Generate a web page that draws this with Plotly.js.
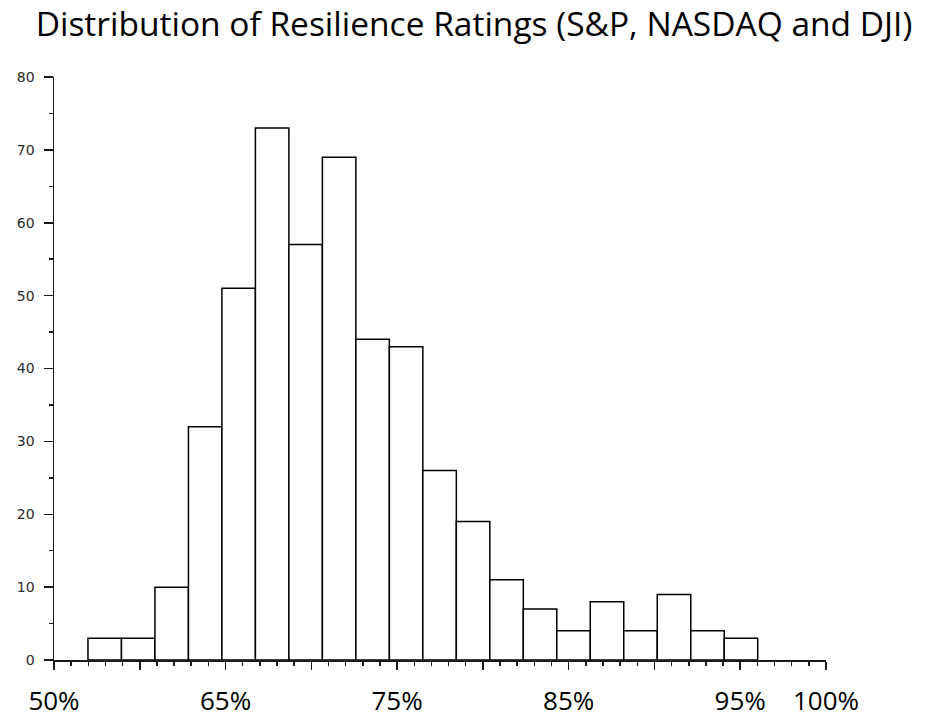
<!DOCTYPE html>
<html>
<head>
<meta charset="utf-8">
<script src="https://cdn.plot.ly/plotly-3.0.1.min.js"></script>
<style>html,body{margin:0;padding:0;background:#fff;}#chart{width:941px;height:727px;} svg text{font-variant-ligatures:none;}</style>
</head>
<body>
<div id="chart"></div>
<script>
// Histogram counts per class (20 classes)
var counts = [3, 3, 10, 32, 51, 73, 57, 69, 44, 43, 26, 19, 11, 7, 4, 8, 4, 9, 4, 3];
// Class edges: first edge and width (fractions)
var binStart = 0.5698;
var binWidth = 0.01952;
// Axis tick values and their (overlaid) labels
var xTickVals = [0.55, 0.60, 0.65, 0.70, 0.75, 0.80, 0.85, 0.90, 0.95, 1.00];
var xTickText = ["50%", "", "65%", "", "75%", "", "85%", "", "95%", "100%"];
var yTickVals = [0, 10, 20, 30, 40, 50, 60, 70, 80];

var centers = counts.map(function (c, i) { return binStart + (i + 0.5) * binWidth; });

var trace = {
  type: 'bar',
  x: centers,
  y: counts,
  width: counts.map(function () { return binWidth; }),
  marker: { color: '#ffffff', line: { color: '#000000', width: 1.5 } },
  hoverinfo: 'x+y'
};

var layout = {
  width: 941,
  height: 727,
  margin: { l: 54, r: 115, t: 77, b: 67, pad: 0 },
  paper_bgcolor: '#ffffff',
  plot_bgcolor: '#ffffff',
  showlegend: false,
  bargap: 0,
  title: {
    text: 'Distribution of Resilience Ratings (S&amp;P, NASDAQ and DJI)',
    font: { family: '"Open Sans", sans-serif', size: 33.5, color: '#000000' },
    x: 474 / 941, xanchor: 'center', xref: 'container',
    y: 1 - 24 / 727, yanchor: 'middle', yref: 'container'
  },
  xaxis: {
    range: [0.55, 1.0],
    tickmode: 'array',
    tickvals: xTickVals,
    ticktext: xTickText,
    ticks: 'outside',
    ticklen: 8,
    tickwidth: 1.5,
    tickcolor: '#1a1a1a',
    ticklabelstandoff: 9,
    tickfont: { family: '"Open Sans", sans-serif', size: 26, color: '#000000' },
    showline: true,
    linecolor: '#1a1a1a',
    linewidth: 1.5,
    showgrid: false,
    zeroline: false,
    minor: { dtick: 0.01, tick0: 0.55, ticks: 'outside', ticklen: 4, tickwidth: 1.5, tickcolor: '#1a1a1a', showgrid: false }
  },
  yaxis: {
    range: [0, 80],
    tickmode: 'array',
    tickvals: yTickVals,
    ticks: 'outside',
    ticklen: 9,
    tickwidth: 1.5,
    tickcolor: '#1a1a1a',
    ticklabelstandoff: 6,
    tickfont: { family: '"DejaVu Sans", sans-serif', size: 14, color: '#2a2a2a' },
    showline: true,
    linecolor: '#1a1a1a',
    linewidth: 1.5,
    showgrid: false,
    zeroline: false,
    minor: { dtick: 5, tick0: 0, ticks: 'outside', ticklen: 4, tickwidth: 1.5, tickcolor: '#1a1a1a', showgrid: false }
  }
};

Plotly.newPlot('chart', [trace], layout, { displayModeBar: false, staticPlot: true });
</script>
</body>
</html>
